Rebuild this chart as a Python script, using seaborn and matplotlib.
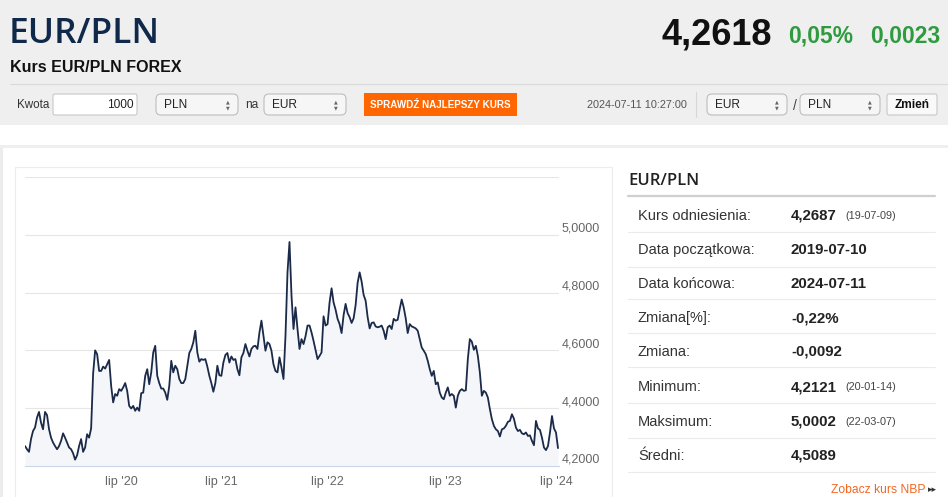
import numpy as np
import seaborn as sns
import matplotlib.pyplot as plt
from matplotlib.patches import Rectangle, FancyBboxPatch

sns.set_style("white")
plt.rcParams['font.family'] = ['Liberation Sans', 'DejaVu Sans']

# EUR/PLN closing rates, 2019-07-10 .. 2024-07-11 (ordinal axis)
rates = [
    4.269, 4.258, 4.249, 4.293, 4.321, 4.333, 4.368, 4.387, 4.350, 4.327,
    4.387, 4.376, 4.327, 4.298, 4.281, 4.269, 4.258, 4.269, 4.287, 4.313,
    4.298, 4.281, 4.264, 4.258, 4.244, 4.222, 4.237, 4.269, 4.293, 4.249,
    4.264, 4.310, 4.298, 4.330, 4.520, 4.600, 4.587, 4.529, 4.529, 4.544,
    4.537, 4.552, 4.567, 4.477, 4.420, 4.449, 4.443, 4.466, 4.460, 4.472,
    4.487, 4.460, 4.408, 4.399, 4.408, 4.391, 4.402, 4.391, 4.452, 4.454,
    4.512, 4.535, 4.483, 4.524, 4.593,
    4.616, 4.512, 4.487, 4.468, 4.468, 4.454, 4.429, 4.477, 4.564, 4.524,
    4.547, 4.535, 4.501, 4.487, 4.487, 4.501, 4.547, 4.591, 4.605, 4.628,
    4.668, 4.593, 4.561, 4.570, 4.567, 4.570, 4.544, 4.512, 4.487, 4.457,
    4.487, 4.547, 4.514, 4.512, 4.558, 4.584, 4.591, 4.558, 4.579, 4.567,
    4.570, 4.535, 4.514, 4.576, 4.591, 4.622, 4.599, 4.579, 4.605, 4.614,
    4.616, 4.605, 4.662, 4.703, 4.651, 4.599, 4.628, 4.622, 4.599, 4.552,
    4.529, 4.524, 4.576, 4.541, 4.501, 4.651, 4.870,
    4.975, 4.790, 4.674, 4.749, 4.674, 4.605, 4.639, 4.622, 4.649, 4.686,
    4.686, 4.662, 4.633, 4.602, 4.570, 4.581, 4.593, 4.718, 4.686, 4.691,
    4.766, 4.815, 4.766, 4.741, 4.709, 4.691, 4.660, 4.722, 4.761, 4.729,
    4.715, 4.695, 4.711, 4.757, 4.834, 4.870, 4.838, 4.792, 4.772, 4.715,
    4.676, 4.695, 4.697, 4.683, 4.680, 4.682, 4.686, 4.668, 4.639, 4.680,
    4.686, 4.674, 4.709, 4.703, 4.706, 4.743, 4.776, 4.749, 4.711, 4.660,
    4.691, 4.683, 4.680, 4.676, 4.668, 4.639, 4.610,
    4.599, 4.587, 4.564, 4.535, 4.512, 4.529, 4.483, 4.489, 4.454, 4.437,
    4.431, 4.454, 4.472, 4.443, 4.449, 4.443, 4.402, 4.443, 4.460, 4.466,
    4.460, 4.462, 4.570, 4.639, 4.630, 4.602, 4.616, 4.581, 4.524, 4.443,
    4.460, 4.454, 4.437, 4.397, 4.362, 4.339, 4.327, 4.321, 4.302, 4.327,
    4.330, 4.339, 4.353, 4.356, 4.379, 4.364, 4.333, 4.321, 4.325, 4.313,
    4.310, 4.316, 4.304, 4.306, 4.287, 4.272, 4.356, 4.330, 4.325, 4.298,
    4.264, 4.255, 4.269, 4.316, 4.373, 4.330, 4.316, 4.262,
]
tick_idx = [48, 98, 151, 210, 265]
tick_labels = ["lip '20", "lip '21", "lip '22", "lip '23", "lip '24"]
y_ticks = [4.2, 4.4, 4.6, 4.8, 5.0, 5.2]
y_labels = ['4,2000', '4,4000', '4,6000', '4,8000', '5,0000', '']

stat_labels = ['Kurs odniesienia:', 'Data początkowa:', 'Data końcowa:', 'Zmiana[%]:',
               'Zmiana:', 'Minimum:', 'Maksimum:', 'Średni:']
stat_values = ['4,2687', '2019-07-10', '2024-07-11', '-0,22%', '-0,0092', '4,2121', '5,0002', '4,5089']
stat_dates = ['(19-07-09)', '', '', '', '', '(20-01-14)', '(22-03-07)', '']

W, H = 948, 497
fig = plt.figure(figsize=(W / 100, H / 100), dpi=100)
fig.patch.set_facecolor('white')

# background "page" axes in pixel coordinates
bg = fig.add_axes([0, 0, 1, 1])
bg.set_xlim(0, W)
bg.set_ylim(H, 0)
bg.axis('off')

bg.add_patch(Rectangle((0, 0), W, 125, fc='#efefef', ec='none'))
bg.add_patch(Rectangle((0, 145), W, 3, fc='#efefef', ec='none'))
bg.add_patch(Rectangle((0, 148), 3, H - 148, fc='#ececec', ec='none'))
bg.plot([10, W], [84, 84], color='#d9d9d9', lw=0.8)

bg.text(9, 43, 'EUR/PLN', fontsize=25.5, family='Open Sans', weight='semibold', color='#10284a', va='baseline')
bg.text(10, 71.5, 'Kurs EUR/PLN FOREX', fontsize=11.5, weight='bold', color='#111', va='baseline')
bg.text(772, 45, '4,2618', fontsize=26, weight='bold', color='#111', ha='right', va='baseline')
bg.text(853, 43, '0,05%', fontsize=16.5, weight='bold', color='#2e9b3e', ha='right', va='baseline')
bg.text(940, 43, '0,0023', fontsize=16.5, weight='bold', color='#2e9b3e', ha='right', va='baseline')

# controls row
bg.text(17, 108, 'Kwota', fontsize=8.4, color='#333', va='baseline')
bg.add_patch(FancyBboxPatch((53, 94), 84, 21, boxstyle='round,pad=0,rounding_size=2',
                            fc='white', ec='#c8c8c8', lw=0.8))
bg.text(134, 108, '1000', fontsize=8.6, color='#222', ha='right', va='baseline')


def select_box(x0, x1, label):
    bg.add_patch(FancyBboxPatch((x0, 94), x1 - x0, 21, boxstyle='round,pad=0,rounding_size=5',
                                fc='#f6f6f6', ec='#bdbdbd', lw=0.8))
    bg.text(x0 + 8, 108, label, fontsize=8.6, color='#222', va='baseline')
    bg.text(x1 - 10, 101.5, '▲', fontsize=3.5, family='DejaVu Sans', color='#666', ha='center', va='center')
    bg.text(x1 - 10, 107.5, '▼', fontsize=3.5, family='DejaVu Sans', color='#666', ha='center', va='center')


select_box(156, 238, 'PLN')
bg.text(245, 108, 'na', fontsize=8.6, color='#333', va='baseline')
select_box(264, 346, 'EUR')
bg.add_patch(Rectangle((364, 93), 153, 23, fc='#ff6600', ec='none'))
bg.text(440.5, 107.5, 'SPRAWDŹ NAJLEPSZY KURS', fontsize=7.1, weight='bold', color='white',
        ha='center', va='baseline')
bg.text(587, 108, '2024-07-11 10:27:00', fontsize=7.8, color='#555', va='baseline')
bg.plot([696, 696], [92, 117], color='#d6d6d6', lw=0.8)
select_box(707, 787, 'EUR')
bg.text(793, 110, '/', fontsize=10, color='#444', va='baseline')
select_box(800, 880, 'PLN')
bg.add_patch(FancyBboxPatch((887, 94), 50, 21, boxstyle='round,pad=0,rounding_size=2',
                            fc='#f9f9f9', ec='#c8c8c8', lw=0.8))
bg.text(912, 108, 'Zmień', fontsize=8.6, weight='bold', color='#111', ha='center', va='baseline')

# chart frame
bg.add_patch(Rectangle((15, 167), 597, 340, fc='white', ec='#ececec', lw=0.8))

# stats table
bg.text(628, 185, 'EUR/PLN', fontsize=12, family='Open Sans', weight='semibold', color='#222', va='baseline')
bg.plot([628, 935], [196, 196], color='#cfcfcf', lw=1.6)
row_y = [215, 249.3, 283.3, 317.3, 350.7, 386, 421, 455]
sep_y = [231.7, 266.7, 299.3, 333.3, 367.3, 403.3, 438.3, 472.3]
for y, s in zip(row_y, sep_y):
    bg.plot([628, 935], [s, s], color='#ebebeb', lw=0.8)
for lab, val, dt, y in zip(stat_labels, stat_values, stat_dates, row_y):
    bg.text(638, y + 5, lab, fontsize=10.5, color='#333', va='baseline')
    bg.text(791, y + 5, val, fontsize=10.8, weight='bold', color='#222', va='baseline')
    if dt:
        bg.text(845, y + 4, dt, fontsize=7.8, color='#444', va='baseline')
bg.text(831, 493, 'Zobacz kurs NBP', fontsize=8.7, color='#f26722', va='baseline')
bg.text(928, 492, '▸▸', fontsize=6.5, family='DejaVu Sans', color='#333', va='baseline')

# the chart itself
ax = fig.add_axes([25 / W, 1 - 466 / H, 534 / W, 289 / H])
ax.set_facecolor('white')
x = np.arange(len(rates))
ax.fill_between(x, rates, 4.2, color='#f4f6f9', lw=0)
sns.lineplot(x=x, y=rates, ax=ax, color='#1b2a48', linewidth=1.3)
ax.set_xlim(0, 266.5)
ax.set_ylim(4.2, 5.2)
ax.set_yticks(y_ticks)
ax.set_yticklabels(y_labels)
ax.yaxis.tick_right()
ax.grid(axis='y', color='#e6e6e6', lw=0.8)
ax.set_axisbelow(True)
ax.tick_params(axis='y', length=0, pad=2, labelsize=9, labelcolor='#666')
for lbl in ax.get_yticklabels():
    lbl.set_va('bottom')
ax.set_xticks(tick_idx)
ax.set_xticklabels(tick_labels)
ax.tick_params(axis='x', length=4, width=0.8, color='#ccd6eb', pad=3, labelsize=9, labelcolor='#666')
for side in ['top', 'left', 'right']:
    ax.spines[side].set_visible(False)
ax.spines['bottom'].set_color('#ccd6eb')
ax.spines['bottom'].set_linewidth(0.8)
ax.set_xlabel('')
ax.set_ylabel('')

fig.savefig('out.png', dpi=100)
